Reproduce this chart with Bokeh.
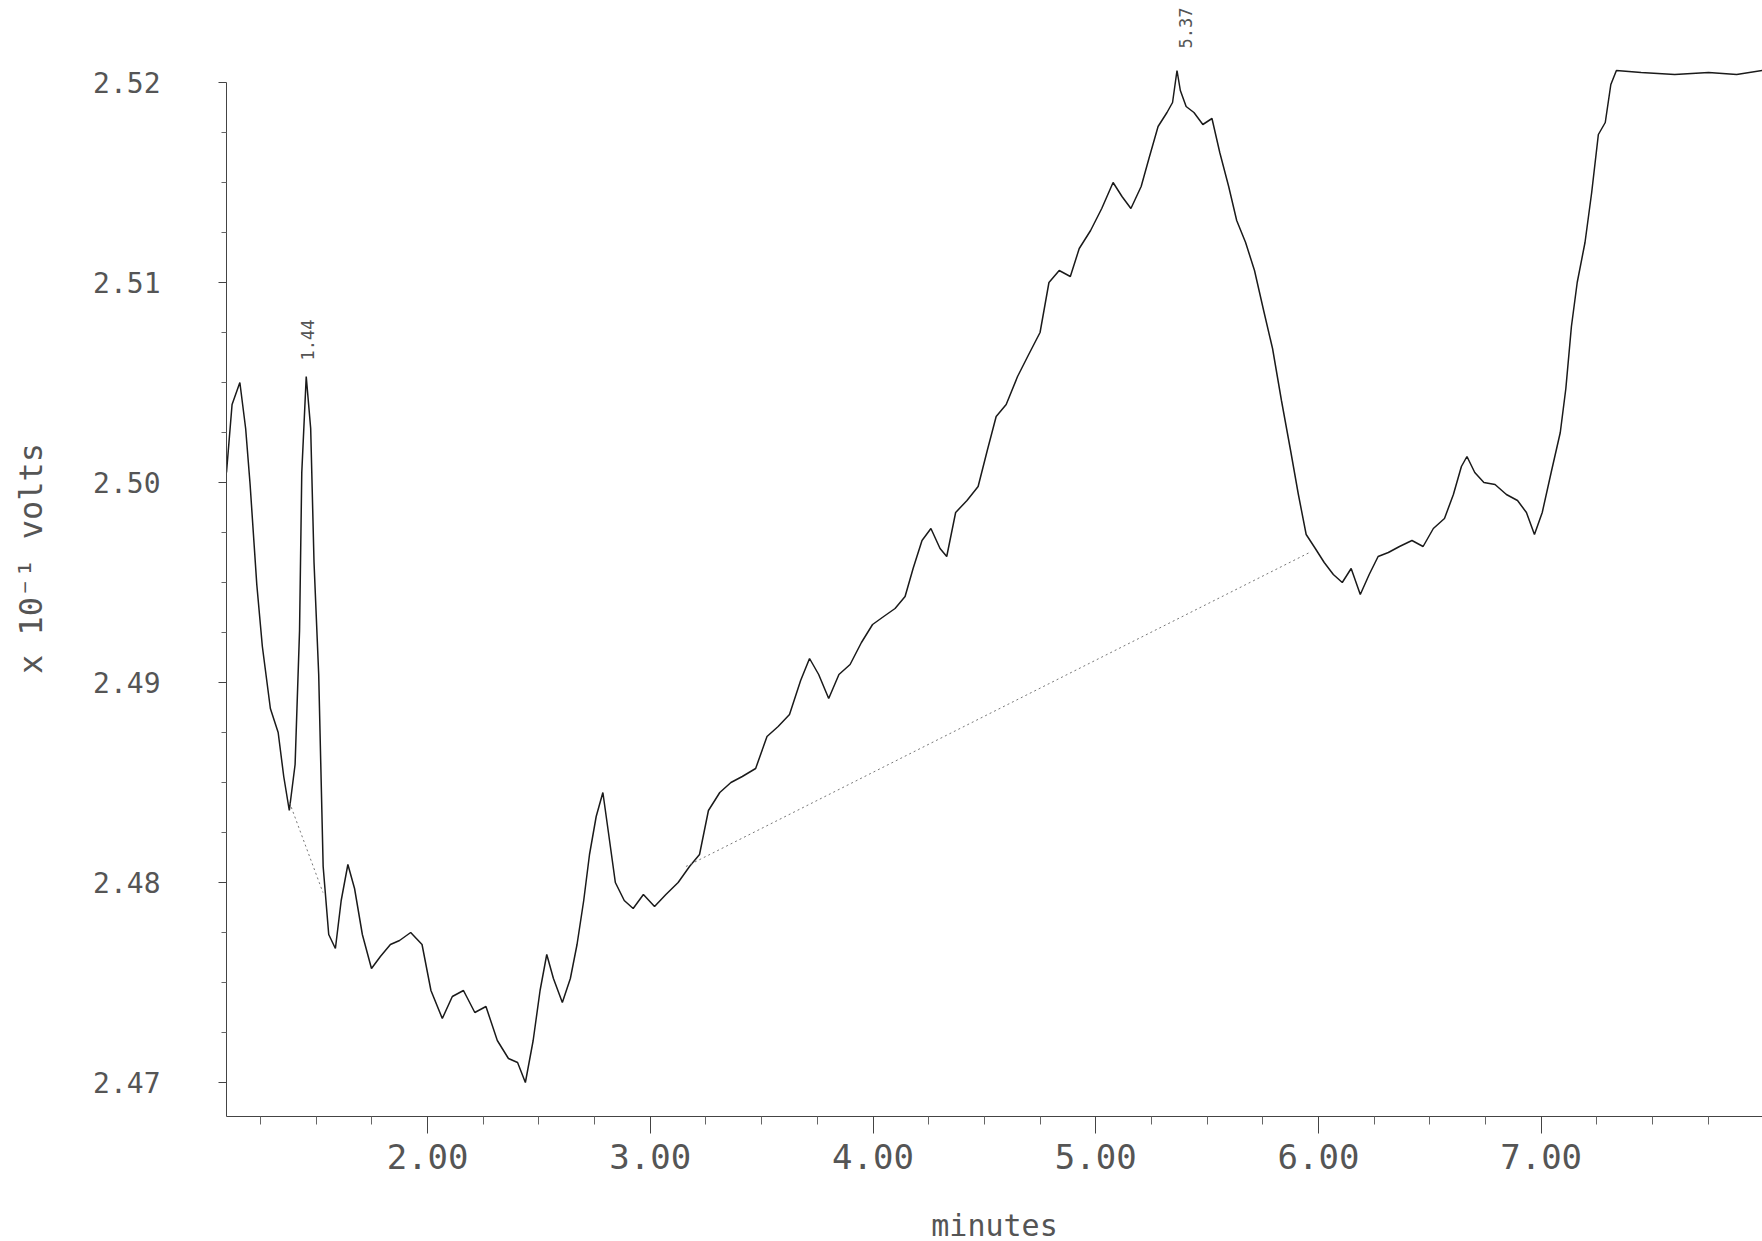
from bokeh.plotting import figure
from bokeh.models import FixedTicker, Range1d, NumeralTickFormatter
from bokeh.core.properties import value
from bokeh.embed import file_html
from bokeh.resources import INLINE

# ---- data ----
minutes = [1.097, 1.122, 1.157, 1.183, 1.203, 1.233, 1.258, 1.294, 1.329, 1.354,
           1.379, 1.405, 1.425, 1.435, 1.455, 1.475, 1.490, 1.511, 1.531, 1.556,
           1.586, 1.612, 1.642, 1.672, 1.707, 1.748, 1.788, 1.833, 1.874, 1.924,
           1.975, 2.015, 2.066, 2.111, 2.161, 2.212, 2.262, 2.313, 2.363, 2.404,
           2.439, 2.474, 2.505, 2.535, 2.565, 2.605, 2.641, 2.671, 2.701, 2.727,
           2.757, 2.787, 2.812, 2.843, 2.883, 2.923, 2.969, 3.019, 3.070, 3.125,
           3.176, 3.221, 3.261, 3.312, 3.362, 3.413, 3.473, 3.524, 3.574, 3.625,
           3.675, 3.715, 3.756, 3.801, 3.847, 3.897, 3.948, 3.998, 4.048, 4.099,
           4.144, 4.180, 4.220, 4.260, 4.301, 4.331, 4.371, 4.422, 4.472, 4.513,
           4.553, 4.598, 4.649, 4.699, 4.750, 4.790, 4.836, 4.886, 4.926, 4.977,
           5.027, 5.078, 5.118, 5.158, 5.204, 5.239, 5.280, 5.320, 5.345, 5.365,
           5.380, 5.406, 5.441, 5.481, 5.522, 5.557, 5.597, 5.633, 5.673, 5.713,
           5.754, 5.794, 5.834, 5.875, 5.910, 5.945, 5.986, 6.026, 6.067, 6.107,
           6.147, 6.188, 6.228, 6.268, 6.314, 6.364, 6.420, 6.470, 6.516, 6.566,
           6.606, 6.642, 6.667, 6.702, 6.743, 6.793, 6.844, 6.894, 6.934, 6.970,
           7.005, 7.045, 7.086, 7.111, 7.136, 7.162, 7.197, 7.227, 7.257, 7.288,
           7.313, 7.338, 7.449, 7.600, 7.752, 7.878, 7.994]
volts = [2.5005, 2.5039, 2.5050, 2.5027, 2.4999, 2.4949, 2.4918, 2.4887, 2.4875, 2.4853,
         2.4836, 2.4859, 2.4926, 2.5005, 2.5053, 2.5027, 2.4960, 2.4904, 2.4808, 2.4774,
         2.4767, 2.4791, 2.4809, 2.4797, 2.4774, 2.4757, 2.4763, 2.4769, 2.4771, 2.4775,
         2.4769, 2.4746, 2.4732, 2.4743, 2.4746, 2.4735, 2.4738, 2.4721, 2.4712, 2.4710,
         2.4700, 2.4721, 2.4746, 2.4764, 2.4752, 2.4740, 2.4752, 2.4769, 2.4791, 2.4814,
         2.4833, 2.4845, 2.4825, 2.4800, 2.4791, 2.4787, 2.4794, 2.4788, 2.4794, 2.4800,
         2.4808, 2.4814, 2.4836, 2.4845, 2.4850, 2.4853, 2.4857, 2.4873, 2.4878, 2.4884,
         2.4901, 2.4912, 2.4904, 2.4892, 2.4904, 2.4909, 2.4920, 2.4929, 2.4933, 2.4937,
         2.4943, 2.4957, 2.4971, 2.4977, 2.4967, 2.4963, 2.4985, 2.4991, 2.4998, 2.5016,
         2.5033, 2.5039, 2.5053, 2.5064, 2.5075, 2.5100, 2.5106, 2.5103, 2.5117, 2.5126,
         2.5137, 2.5150, 2.5143, 2.5137, 2.5148, 2.5162, 2.5178, 2.5185, 2.5190, 2.5206,
         2.5196, 2.5188, 2.5185, 2.5179, 2.5182, 2.5165, 2.5148, 2.5131, 2.5120, 2.5106,
         2.5086, 2.5067, 2.5041, 2.5016, 2.4994, 2.4974, 2.4967, 2.4960, 2.4954, 2.4950,
         2.4957, 2.4944, 2.4954, 2.4963, 2.4965, 2.4968, 2.4971, 2.4968, 2.4977, 2.4982,
         2.4994, 2.5008, 2.5013, 2.5005, 2.5000, 2.4999, 2.4994, 2.4991, 2.4985, 2.4974,
         2.4985, 2.5005, 2.5025, 2.5047, 2.5078, 2.5100, 2.5120, 2.5145, 2.5174, 2.5180,
         2.5199, 2.5206, 2.5205, 2.5204, 2.5205, 2.5204, 2.5206]

# baselines drawn under the peaks (dotted)
baseline1_x = [1.38, 1.53]
baseline1_y = [2.4840, 2.4795]
baseline2_x = [3.16, 5.96]
baseline2_y = [2.4808, 2.4965]

# peak retention-time labels
peak_labels = ["1.44", "5.37"]
peak_x = [1.46, 5.405]
peak_y = [2.5061, 2.5217]

x_major = [2.0, 3.0, 4.0, 5.0, 6.0, 7.0]
x_minor = [1.25, 1.5, 1.75, 2.25, 2.5, 2.75, 3.25, 3.5, 3.75, 4.25, 4.5, 4.75,
           5.25, 5.5, 5.75, 6.25, 6.5, 6.75, 7.25, 7.5, 7.75]
y_major = [2.47, 2.48, 2.49, 2.50, 2.51, 2.52]
y_minor = [2.4725, 2.475, 2.4775, 2.4825, 2.485, 2.4875, 2.4925, 2.495, 2.4975,
           2.5025, 2.505, 2.5075, 2.5125, 2.515, 2.5175]

INK = "#1a1a1a"
GREY = "#555555"
MONO = "DejaVu Sans Mono"

p = figure(frame_width=1536, frame_height=1116,
           x_range=Range1d(1.097, 7.994), y_range=Range1d(2.4683, 2.5241),
           output_backend="svg", toolbar_location=None,
           min_border_left=226, min_border_right=0, min_border_top=0, min_border_bottom=118)
p.outline_line_color = None
p.grid.visible = False
p.background_fill_color = "white"
p.border_fill_color = "white"

p.line(minutes, volts, line_color=INK, line_width=1.5)
p.line(baseline1_x, baseline1_y, line_color="#777777", line_width=1, line_dash="2 3")
p.line(baseline2_x, baseline2_y, line_color="#777777", line_width=1, line_dash="2 3")

p.text(x=peak_x, y=peak_y, text=peak_labels, angle=1.5708,
       text_font=value(MONO), text_font_size="17px", text_color=GREY,
       text_align="left", text_baseline="middle")

# x axis
xa = p.xaxis[0]
xa.ticker = FixedTicker(ticks=x_major, minor_ticks=x_minor)
xa.formatter = NumeralTickFormatter(format="0.00")
xa.axis_line_color = "#444444"
xa.axis_line_width = 1
xa.major_tick_out = 17
xa.major_tick_in = 0
xa.minor_tick_out = 8
xa.minor_tick_in = 0
xa.major_tick_line_color = "#444444"
xa.minor_tick_line_color = "#666666"
xa.major_label_text_font = MONO
xa.major_label_text_font_size = "34px"
xa.major_label_text_color = GREY
xa.major_label_standoff = 10
xa.axis_label = "minutes"
xa.axis_label_text_font = MONO
xa.axis_label_text_font_size = "30px"
xa.axis_label_text_font_style = "normal"
xa.axis_label_text_color = GREY
xa.axis_label_standoff = 36

# y axis
ya = p.yaxis[0]
ya.bounds = (2.4683, 2.52)
ya.ticker = FixedTicker(ticks=y_major, minor_ticks=y_minor)
ya.formatter = NumeralTickFormatter(format="0.00")
ya.axis_line_color = "#444444"
ya.axis_line_width = 1
ya.major_tick_out = 8
ya.major_tick_in = 0
ya.minor_tick_out = 5
ya.minor_tick_in = 0
ya.major_tick_line_color = "#444444"
ya.minor_tick_line_color = "#666666"
ya.major_label_text_font = MONO
ya.major_label_text_font_size = "28px"
ya.major_label_text_color = GREY
ya.major_label_standoff = 58
ya.axis_label = "x 10⁻¹ volts"
ya.axis_label_text_font = MONO
ya.axis_label_text_font_size = "32px"
ya.axis_label_text_font_style = "normal"
ya.axis_label_text_color = GREY
ya.axis_label_standoff = 40

open("out.html", "w").write(file_html(p, INLINE))
